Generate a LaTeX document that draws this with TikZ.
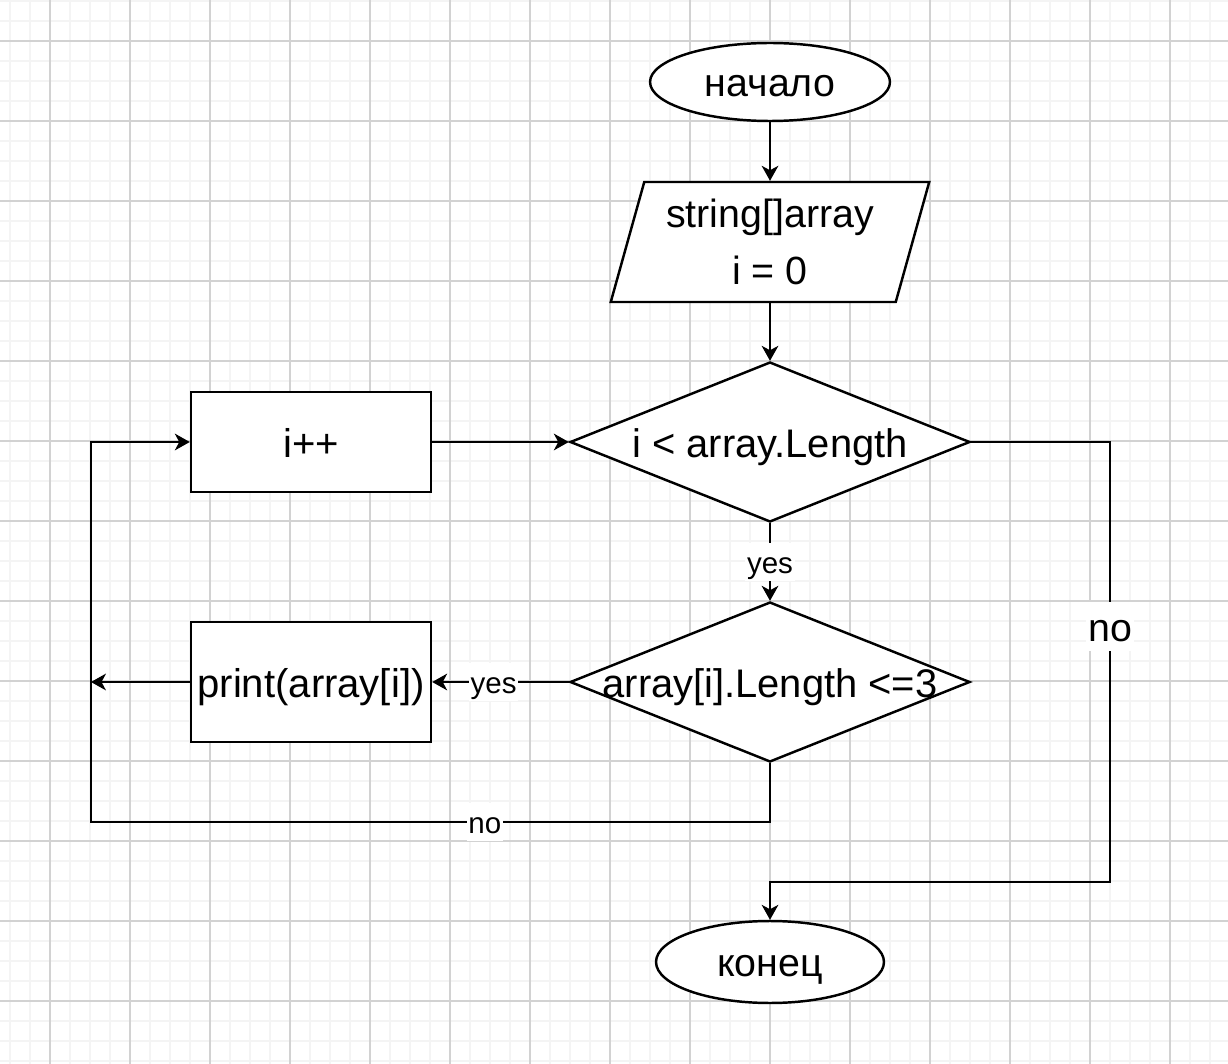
\documentclass[tikz,border=0pt]{standalone}
\usepackage{fontspec}
\setmainfont{Liberation Sans}
\usepackage{tikz}
\usetikzlibrary{shapes.geometric,arrows.meta}
\definecolor{gridminor}{HTML}{F4F4F4}
\definecolor{gridmajor}{HTML}{D2D2D2}
\tikzstyle{terminal}=[ellipse, draw=black, fill=white, line width=1.4pt, inner sep=0pt, text height=21.3pt, text depth=4.5pt, font=\fontsize{22.4}{26}\selectfont]
\tikzstyle{iobox}=[trapezium, trapezium left angle=72, trapezium right angle=108, trapezium stretches=true, draw=black, fill=white, line width=1.4pt, minimum width=6.38cm, minimum height=2.4cm, inner sep=0pt, align=center, font=\fontsize{22.4}{32}\selectfont]
\tikzstyle{process}=[rectangle, draw=black, fill=white, line width=1.4pt, minimum width=4.8cm, inner sep=0pt, text height=21.6pt, text depth=4.5pt, font=\fontsize{22.8}{26}\selectfont]
\tikzstyle{decision}=[diamond, draw=black, fill=white, line width=1.4pt, minimum width=8cm, minimum height=3.2cm, inner sep=0pt, text height=21.6pt, text depth=4.5pt, font=\fontsize{22.7}{26}\selectfont]
\tikzstyle{flow}=[line width=1.1pt, -{Stealth[length=8.5pt,width=9.5pt,inset=2.5pt]}]
\tikzstyle{lbl}=[fill=white, inner sep=1pt, text height=16pt, text depth=3.4pt, font=\fontsize{16.8}{20}\selectfont]
\tikzstyle{biglbl}=[fill=white, inner sep=1pt, text height=21.3pt, text depth=4.5pt, font=\fontsize{22.4}{26}\selectfont]

\begin{document}
\begin{tikzpicture}[x=0.02cm, y=-0.02cm]
	\useasboundingbox (0,0) rectangle (1228,1064);
	\fill[white] (0,0) rectangle (1228,1064);
	% grid
	\foreach \x in {10,30,...,1220}
		\draw[gridminor, line width=1.1pt] (\x,0) -- (\x,1064);
	\foreach \y in {1,21,...,1061}
		\draw[gridminor, line width=1.1pt] (0,\y) -- (1228,\y);
	\foreach \x in {50,130,...,1210}
		\draw[gridmajor, line width=0.6pt] (\x,0) -- (\x,1064);
	\foreach \y in {41,121,...,1041}
		\draw[gridmajor, line width=0.6pt] (0,\y) -- (1228,\y);

	\node[terminal, minimum width=4.8cm, minimum height=1.56cm] (start) at (770,82) {начало};
	\node[iobox] (input) at (770,242) {string[]array\\i = 0};
	\node[decision] (cond1) at (770,442) {\makebox[0pt]{i < array.Length}};
	\node[process, minimum height=2cm] (inc) at (311,442) {i++};
	\node[decision] (cond2) at (770,682) {\makebox[0pt]{array[i].Length <=3}};
	\node[process, minimum height=2.4cm] (print) at (311,682) {print(array[i])};
	\node[terminal, minimum width=4.56cm, minimum height=1.64cm] (stop) at (770,962) {конец};
	\coordinate (pjoin) at (91,682);
	\coordinate (back) at (91,822);
	\coordinate (exitturn) at (1110,882);

	\draw[flow] (start) -- (input);
	\draw[flow] (input) -- (cond1);
	\draw[flow] (inc) -- (cond1);
	\draw[flow] (cond1) -- node[lbl] {yes} (cond2);
	\draw[flow] (cond2) -- node[lbl, pos=0.55] {yes} (print);
	\draw[flow] (print) -- (pjoin);
	\draw[flow] (cond2.south) |- node[lbl, pos=0.71] {no} (back) |- (inc.west);
	\draw[flow] (cond1.east) -| node[biglbl, pos=0.71] {no} (exitturn) -| (stop);
\end{tikzpicture}
\end{document}
